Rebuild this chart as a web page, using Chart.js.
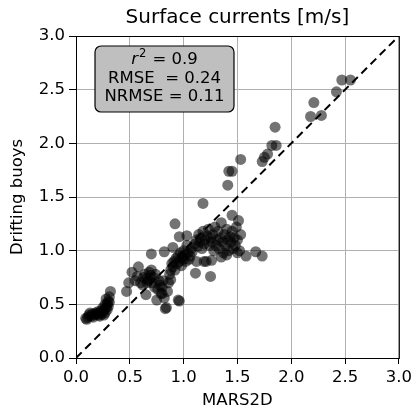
<!DOCTYPE html>
<html>
<head>
<meta charset="utf-8">
<script src="https://cdn.jsdelivr.net/npm/chart.js@4.4.0/dist/chart.umd.min.js"></script>
<style>
  html, body { margin: 0; padding: 0; background: #fff; }
  #wrap { width: 416px; height: 411px; }
</style>
</head>
<body>
<div id="wrap"><canvas id="myChart" width="416" height="411"></canvas></div>
<script>
// MARS2D model (x) vs drifting buoys (y), surface current speed in m/s
const mars2d = [
  0.09, 0.10, 0.11, 0.12, 0.13, 0.14, 0.15, 0.16, 0.17, 0.18, 0.19, 0.20, 0.21, 0.22, 0.22, 0.23,
  0.24, 0.25, 0.25, 0.26, 0.26, 0.27, 0.27, 0.28, 0.28, 0.29, 0.29, 0.30, 0.30, 0.31, 0.31, 0.32,
  0.47, 0.49, 0.52, 0.55, 0.57, 0.58, 0.60, 0.62, 0.63, 0.64, 0.65, 0.66, 0.66, 0.67, 0.68, 0.69,
  0.70, 0.70, 0.71, 0.72, 0.73, 0.74, 0.75, 0.76, 0.77, 0.78, 0.79, 0.80, 0.80, 0.81, 0.82, 0.82,
  0.83, 0.84, 0.85, 0.86, 0.87, 0.88, 0.88, 0.89, 0.90, 0.90, 0.91, 0.92, 0.92, 0.93, 0.94, 0.95,
  0.95, 0.96, 0.96, 0.96, 0.97, 0.98, 0.99, 1.00, 1.00, 1.01, 1.02, 1.03, 1.03, 1.04, 1.05, 1.06,
  1.07, 1.08, 1.10, 1.11, 1.12, 1.12, 1.13, 1.14, 1.15, 1.16, 1.17, 1.18, 1.19, 1.19, 1.20, 1.21,
  1.22, 1.23, 1.24, 1.25, 1.25, 1.26, 1.26, 1.27, 1.28, 1.29, 1.30, 1.31, 1.32, 1.33, 1.34, 1.35,
  1.35, 1.36, 1.37, 1.38, 1.39, 1.40, 1.40, 1.41, 1.42, 1.43, 1.44, 1.45, 1.45, 1.46, 1.47, 1.48,
  1.49, 1.50, 1.50, 1.51, 1.52, 1.53, 1.58, 1.67, 1.73, 1.18, 1.41, 1.42, 1.45, 1.53, 1.73, 1.75,
  1.78, 1.82, 1.86, 1.85, 2.18, 2.21, 2.28, 2.42, 2.47, 2.55
]
const buoys = [
  0.37, 0.36, 0.38, 0.40, 0.42, 0.39, 0.41, 0.38, 0.40, 0.42, 0.41, 0.43, 0.40, 0.42, 0.39, 0.44,
  0.41, 0.43, 0.47, 0.45, 0.40, 0.42, 0.50, 0.47, 0.55, 0.50, 0.45, 0.53, 0.48, 0.57, 0.52, 0.62,
  0.62, 0.70, 0.80, 0.72, 0.76, 0.85, 0.70, 0.68, 0.75, 0.78, 0.59, 0.74, 0.70, 0.72, 0.80, 0.77,
  0.82, 0.97, 0.70, 0.75, 0.66, 0.78, 0.54, 0.64, 0.72, 0.68, 0.60, 0.60, 0.66, 0.72, 0.99, 0.56,
  0.46, 0.47, 0.62, 0.70, 0.78, 0.73, 0.82, 0.88, 1.03, 0.85, 0.90, 0.82, 1.25, 0.93, 0.88, 0.54,
  0.95, 0.53, 0.90, 1.13, 0.98, 0.86, 0.94, 0.92, 1.00, 0.96, 0.90, 1.05, 1.14, 0.98, 0.92, 0.95,
  1.02, 0.99, 1.06, 0.79, 1.10, 0.90, 1.04, 1.15, 1.08, 1.12, 1.02, 1.18, 1.06, 0.90, 1.10, 0.90,
  1.14, 1.20, 1.05, 0.76, 1.12, 1.08, 0.91, 1.15, 1.00, 1.22, 1.05, 1.10, 1.18, 1.02, 1.12, 1.26,
  0.94, 1.08, 0.98, 1.15, 1.05, 1.20, 0.96, 1.10, 1.00, 1.13, 1.08, 1.33, 1.18, 1.02, 1.12, 1.05,
  1.22, 1.10, 0.98, 1.28, 1.00, 1.15, 0.95, 0.99, 0.95, 1.44, 1.61, 1.74, 1.74, 1.85, 1.83, 1.87,
  1.90, 1.98, 1.98, 2.15, 2.25, 2.38, 2.26, 2.48, 2.59, 2.59
]
const tickValues = [0, 0.5, 1.0, 1.5, 2.0, 2.5, 3.0]
const statLines = ['= 0.9', 'RMSE  = 0.24', 'NRMSE = 0.11']

const font = 'DejaVu Sans'

let pts = mars2d.map((x, i) => ({ x: x, y: buoys[i] }))

// frame on all four sides, title and stats box
const extras = {
  id: 'extras',
  afterDraw(chart) {
    const ctx = chart.ctx
    const a = chart.chartArea
    ctx.save()
    ctx.strokeStyle = '#000'
    ctx.lineWidth = 1
    ctx.strokeRect(a.left + 0.5, a.top + 0.5, a.right - a.left, a.bottom - a.top)

    // title
    ctx.fillStyle = '#000'
    ctx.font = '20px "' + font + '"'
    ctx.textAlign = 'center'
    ctx.textBaseline = 'middle'
    ctx.fillText('Surface currents [m/s]', (a.left + a.right) / 2, 18)

    // stats box
    const bx = 95, by = 46, bw = 139, bh = 66, r = 6
    ctx.beginPath()
    ctx.moveTo(bx + r, by)
    ctx.arcTo(bx + bw, by, bx + bw, by + bh, r)
    ctx.arcTo(bx + bw, by + bh, bx, by + bh, r)
    ctx.arcTo(bx, by + bh, bx, by, r)
    ctx.arcTo(bx, by, bx + bw, by, r)
    ctx.closePath()
    ctx.fillStyle = '#bfbfbf'
    ctx.fill()
    ctx.lineWidth = 1.2
    ctx.strokeStyle = '#000'
    ctx.stroke()

    ctx.fillStyle = '#000'
    const fs = 16.5
    const cx = bx + bw / 2
    // first line: italic r with superscript 2
    ctx.textAlign = 'left'
    ctx.font = 'italic ' + fs + 'px "' + font + '"'
    const wr = ctx.measureText('r').width
    ctx.font = '11.5px "' + font + '"'
    const w2 = ctx.measureText('2').width + 2
    ctx.font = fs + 'px "' + font + '"'
    const wrest = ctx.measureText(' ' + statLines[0]).width
    let sx = cx - (wr + w2 + wrest) / 2
    ctx.font = 'italic ' + fs + 'px "' + font + '"'
    ctx.fillText('r', sx, 60)
    ctx.font = '11.5px "' + font + '"'
    ctx.fillText('2', sx + wr + 1, 54)
    ctx.font = fs + 'px "' + font + '"'
    ctx.fillText(' ' + statLines[0], sx + wr + w2, 60)
    ctx.textAlign = 'center'
    ctx.fillText(statLines[1], cx, 78.5)
    ctx.fillText(statLines[2], cx, 97)
    ctx.restore()
  }
}

const ctx = document.getElementById('myChart').getContext('2d')
const myChart = new Chart(ctx, {
  type: 'scatter',
  data: {
    datasets: [{
      data: pts,
      backgroundColor: 'rgba(0,0,0,0.55)',
      borderColor: 'rgba(0,0,0,0)',
      borderWidth: 0,
      pointRadius: 5.5,
      order: 2
    }, {
      type: 'line',
      data: [{ x: 0, y: 0 }, { x: 3, y: 3 }],
      borderColor: '#000',
      borderWidth: 2,
      borderDash: [8, 5],
      pointRadius: 0,
      order: 1
    }]
  },
  options: {
    responsive: false,
    animation: false,
    layout: { padding: { top: 36, right: 15, left: 0, bottom: 0 } },
    plugins: {
      legend: { display: false },
      tooltip: { enabled: false }
    },
    scales: {
      x: {
        type: 'linear',
        min: 0, max: 3,
        afterFit: s => { s.height = 53 },
        afterBuildTicks: s => { s.ticks = tickValues.map(v => ({ value: v })) },
        grid: { color: '#b0b0b0', lineWidth: 1, tickColor: '#000', tickLength: 6 },
        border: { color: '#000', width: 1 },
        ticks: { color: '#000', font: { family: font, size: 16.5 }, padding: 4, maxRotation: 0,
          callback: v => v.toFixed(1) },
        title: { display: true, text: 'MARS2D', color: '#000', font: { family: font, size: 16.5 }, padding: { top: 0, bottom: 0 } }
      },
      y: {
        type: 'linear',
        min: 0, max: 3,
        afterFit: s => { s.width = 76 },
        afterBuildTicks: s => { s.ticks = tickValues.map(v => ({ value: v })) },
        grid: { color: '#b0b0b0', lineWidth: 1, tickColor: '#000', tickLength: 7 },
        border: { color: '#000', width: 1 },
        ticks: { color: '#000', font: { family: font, size: 16.5 }, padding: 4,
          callback: v => v.toFixed(1) },
        title: { display: true, text: 'Drifting buoys', color: '#000', font: { family: font, size: 16.5 }, padding: { top: 8, bottom: 0 } }
      }
    }
  },
  plugins: [extras]
})
</script>
</body>
</html>
